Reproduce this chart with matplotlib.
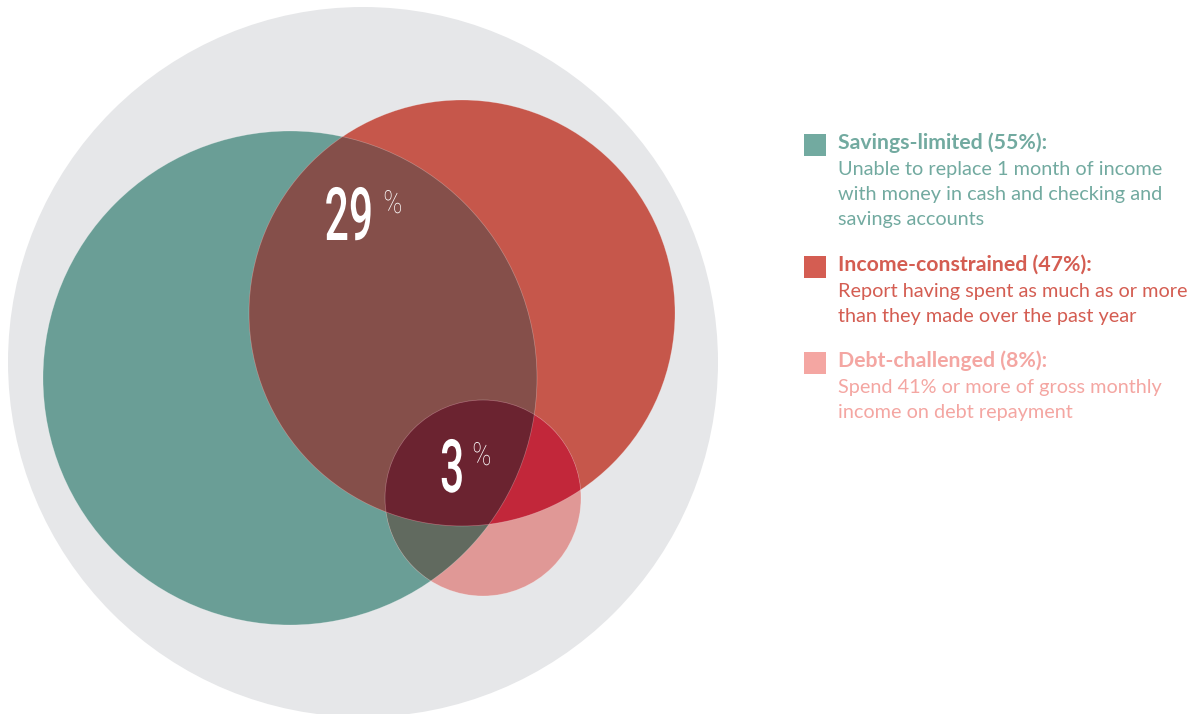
import numpy as np
import matplotlib
matplotlib.use("Agg")
import matplotlib.pyplot as plt
from matplotlib.patches import Circle, Polygon, Rectangle
from matplotlib.patheffects import AbstractPathEffect
from matplotlib.transforms import Affine2D
from matplotlib import font_manager

# ---- data ----
groups = ["Savings-limited", "Income-constrained", "Debt-challenged"]
group_pct = [55, 47, 8]
descriptions = [
    ["Unable to replace 1 month of income",
     "with money in cash and checking and",
     "savings accounts"],
    ["Report having spent as much as or more",
     "than they made over the past year"],
    ["Spend 41% or more of gross monthly",
     "income on debt repayment"],
]
overlap_labels = ["29", "3"]

# ---- style / layout ----
W, H = 1198, 714
gray = "#E6E7E9"
set_colors = ["#6A9E96", "#C6574B", "#E09896"]
text_colors = ["#72AAA0", "#D45D52", "#F4A6A2"]
c_gr = "#854F4A"
c_gp = "#616A5F"
c_rp = "#C2273A"
c_grp = "#6B2330"

outer = (363, 362, 355)
circles = [(290, 378, 247), (462, 313, 213), (483, 498, 98)]

names = {f.name for f in font_manager.fontManager.ttflist}
num_font = "Roboto" if "Roboto" in names else "DejaVu Sans"
txt_font = "Lato" if "Lato" in names else "DejaVu Sans"


class Squeeze(AbstractPathEffect):
    """Horizontally condense rendered text around its left/right/centre."""

    def __init__(self, sx, anchor="center"):
        super().__init__()
        self.sx = sx
        self.anchor = anchor

    def draw_path(self, renderer, gc, tpath, affine, rgbFace=None):
        ext = tpath.transformed(affine).get_extents()
        if self.anchor == "left":
            ax0 = ext.x0
        elif self.anchor == "right":
            ax0 = ext.x1
        else:
            ax0 = 0.5 * (ext.x0 + ext.x1)
        aff = affine + Affine2D().translate(-ax0, 0).scale(self.sx, 1).translate(ax0, 0)
        renderer.draw_path(gc, tpath, aff, rgbFace)


fig = plt.figure(figsize=(W / 100, H / 100), dpi=100)
ax = fig.add_axes([0, 0, 1, 1])
ax.set_xlim(0, W)
ax.set_ylim(H, 0)
ax.set_aspect("equal")
ax.axis("off")


def circ_poly(c, n=720):
    cx, cy, r = c
    t = np.linspace(0, 2 * np.pi, n, endpoint=False)
    return np.column_stack([cx + r * np.cos(t), cy + r * np.sin(t)])


def clip(subject, clipper):
    def inside(p, a, b):
        return (b[0] - a[0]) * (p[1] - a[1]) - (b[1] - a[1]) * (p[0] - a[0]) >= 0

    def inter(p1, p2, a, b):
        x1, y1 = p1; x2, y2 = p2; x3, y3 = a; x4, y4 = b
        den = (x1 - x2) * (y3 - y4) - (y1 - y2) * (x3 - x4)
        t = ((x1 - x3) * (y3 - y4) - (y1 - y3) * (x3 - x4)) / den
        return (x1 + t * (x2 - x1), y1 + t * (y2 - y1))

    out = [tuple(p) for p in subject]
    n = len(clipper)
    for i in range(n):
        a = clipper[i]; b = clipper[(i + 1) % n]
        inp = out
        out = []
        if not inp:
            break
        s = inp[-1]
        for e in inp:
            if inside(e, a, b):
                if not inside(s, a, b):
                    out.append(inter(s, e, a, b))
                out.append(e)
            elif inside(s, a, b):
                out.append(inter(s, e, a, b))
            s = e
    return np.array(out)


ax.add_patch(Circle(outer[:2], outer[2], facecolor=gray, edgecolor="none", zorder=1))
polys = [circ_poly(c) for c in circles]
for c, col in zip(circles, set_colors):
    ax.add_patch(Circle(c[:2], c[2], facecolor=col, edgecolor="none", zorder=2))

gr = clip(polys[0], polys[1])
gp = clip(polys[2], polys[0])
rp = clip(polys[2], polys[1])
grp = clip(gr, polys[2])
for poly, col in [(gr, c_gr), (gp, c_gp), (rp, c_rp), (grp, c_grp)]:
    ax.add_patch(Polygon(poly, closed=True, facecolor=col, edgecolor="none", zorder=3))

for c in circles:
    ax.add_patch(Circle(c[:2], c[2], facecolor="none", edgecolor="white",
                        linewidth=0.5, alpha=0.3, zorder=4))

# overlap labels (condensed numerals, small superscript %)
num_fx = [Squeeze(0.58, "right")]
pct_fx = [Squeeze(0.8, "left")]
ax.text(375, 240, overlap_labels[0], fontsize=53, color="white", family=num_font,
        fontweight="medium", ha="right", va="baseline", zorder=5, path_effects=num_fx)
ax.text(383, 213, "%", fontsize=23, color="white", family=num_font,
        fontweight="light", ha="left", va="baseline", zorder=5, path_effects=pct_fx)
ax.text(466, 492, overlap_labels[1], fontsize=53, color="white", family=num_font,
        fontweight="medium", ha="right", va="baseline", zorder=5, path_effects=num_fx)
ax.text(472, 465, "%", fontsize=23, color="white", family=num_font,
        fontweight="light", ha="left", va="baseline", zorder=5, path_effects=pct_fx)

# legend
head_base = [149, 271, 367]
for i in range(3):
    yb = head_base[i]
    ax.add_patch(Rectangle((804, yb - 15), 22, 22, facecolor=text_colors[i],
                           edgecolor="none", zorder=5))
    ax.text(838, yb, f"{groups[i]} ({group_pct[i]}%):", fontsize=15.3, fontweight="bold",
            color=text_colors[i], family=txt_font, va="baseline", ha="left")
    for k, line in enumerate(descriptions[i]):
        ax.text(838, yb + 26 + 25 * k, line, fontsize=14.3, fontweight="normal",
                color=text_colors[i], family=txt_font, va="baseline", ha="left")

fig.savefig("out.png", dpi=100)
